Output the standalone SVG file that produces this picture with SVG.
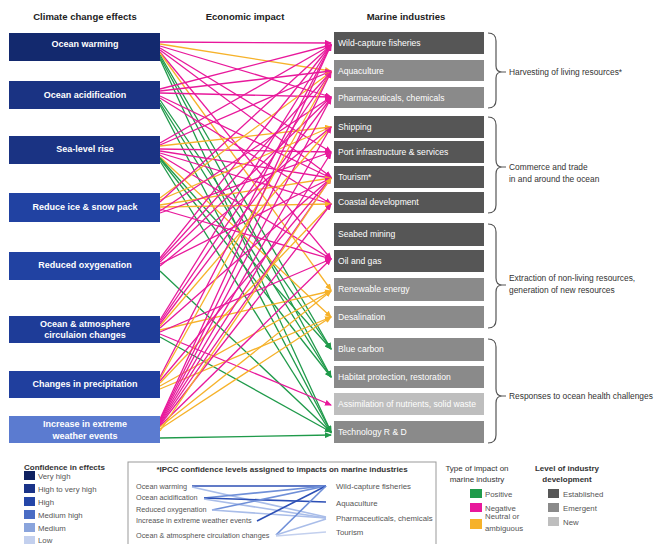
<svg xmlns="http://www.w3.org/2000/svg" width="657" height="544" viewBox="0 0 657 544">
<style>
text{font-family:"Liberation Sans",Arial,sans-serif}
.hd{font-size:9.5px;font-weight:bold;fill:#222;text-anchor:middle}
.lb{font-size:9px;font-weight:bold;fill:#fff;text-anchor:middle}
.rb{font-size:8.6px;fill:#fff}
.br{font-size:8.4px;fill:#333}
.p{stroke:#e8189b;fill:none;stroke-width:1.3;marker-end:url(#mp)}
.o{stroke:#f6b22a;fill:none;stroke-width:1.3;marker-end:url(#mo)}
.g{stroke:#1f9a4a;fill:none;stroke-width:1.3;marker-end:url(#mg)}
.est{fill:#565656}.emg{fill:#8a8a8a}.new{fill:#bebebe}
.brace{fill:none;stroke:#555;stroke-width:1.2}
.lg{font-size:7.8px;fill:#555}
.il{font-size:7.3px;fill:#555}
.lgt{font-size:8px;font-weight:bold;fill:#333}
.lgn{font-size:8px;fill:#333}
.ip{stroke-width:1.6;fill:none}
</style>
<defs>
<marker id="mp" markerUnits="userSpaceOnUse" markerWidth="7" markerHeight="6" refX="6" refY="3" orient="auto"><path d="M0,0 L7,3 L0,6 z" fill="#e8189b"/></marker>
<marker id="mo" markerUnits="userSpaceOnUse" markerWidth="7" markerHeight="6" refX="6" refY="3" orient="auto"><path d="M0,0 L7,3 L0,6 z" fill="#f6b22a"/></marker>
<marker id="mg" markerUnits="userSpaceOnUse" markerWidth="7" markerHeight="6" refX="6" refY="3" orient="auto"><path d="M0,0 L7,3 L0,6 z" fill="#1f9a4a"/></marker>
</defs>
<rect width="657" height="544" fill="#fff"/>
<text class="hd" x="85" y="20">Climate change effects</text>
<text class="hd" x="245" y="20">Economic impact</text>
<text class="hd" x="406" y="20">Marine industries</text>

<g id="connectors">
<line class="p" x1="160" y1="42" x2="331" y2="43"/>
<line class="o" x1="160" y1="44" x2="331" y2="71"/>
<line class="p" x1="160" y1="46" x2="331" y2="97"/>
<line class="p" x1="160" y1="48" x2="331" y2="152"/>
<line class="p" x1="160" y1="50" x2="331" y2="177"/>
<line class="p" x1="160" y1="52" x2="331" y2="259"/>
<line class="o" x1="160" y1="53" x2="331" y2="290"/>
<line class="g" x1="160" y1="55" x2="331" y2="349"/>
<line class="g" x1="160" y1="57" x2="331" y2="377"/>
<line class="g" x1="160" y1="59" x2="331" y2="432"/>

<line class="p" x1="160" y1="89" x2="331" y2="45"/>
<line class="p" x1="160" y1="91" x2="331" y2="71"/>
<line class="p" x1="160" y1="93" x2="331" y2="97"/>
<line class="p" x1="160" y1="96" x2="331" y2="178"/>
<line class="p" x1="160" y1="98" x2="331" y2="204"/>
<line class="g" x1="160" y1="100" x2="331" y2="349"/>
<line class="g" x1="160" y1="103" x2="331" y2="377"/>
<line class="g" x1="160" y1="105" x2="331" y2="432"/>

<line class="p" x1="160" y1="143" x2="331" y2="45"/>
<line class="p" x1="160" y1="145" x2="331" y2="71"/>
<line class="o" x1="160" y1="146" x2="331" y2="127"/>
<line class="p" x1="160" y1="149" x2="331" y2="152"/>
<line class="p" x1="160" y1="151" x2="331" y2="178"/>
<line class="p" x1="160" y1="153" x2="331" y2="204"/>
<line class="p" x1="160" y1="155" x2="331" y2="259"/>
<line class="o" x1="160" y1="157" x2="331" y2="317"/>
<line class="g" x1="160" y1="158" x2="331" y2="349"/>
<line class="g" x1="160" y1="159" x2="331" y2="377"/>
<line class="g" x1="160" y1="161" x2="331" y2="433"/>

<line class="o" x1="160" y1="198" x2="331" y2="72"/>
<line class="o" x1="160" y1="200" x2="331" y2="127"/>
<line class="p" x1="160" y1="202" x2="331" y2="45"/>
<line class="o" x1="160" y1="205" x2="331" y2="178"/>
<line class="o" x1="160" y1="207" x2="331" y2="204"/>
<line class="p" x1="160" y1="209" x2="331" y2="259"/>
<line class="p" x1="160" y1="211" x2="331" y2="97"/>
<line class="p" x1="160" y1="213" x2="331" y2="152"/>

<line class="p" x1="160" y1="258" x2="331" y2="45"/>
<line class="p" x1="160" y1="260" x2="331" y2="72"/>
<line class="p" x1="160" y1="262" x2="331" y2="97"/>
<line class="p" x1="160" y1="264" x2="331" y2="178"/>
<line class="p" x1="160" y1="266" x2="331" y2="127"/>
<line class="g" x1="160" y1="271" x2="331" y2="432"/>

<line class="p" x1="160" y1="320" x2="331" y2="45"/>
<line class="p" x1="160" y1="322" x2="331" y2="72"/>
<line class="p" x1="160" y1="324" x2="331" y2="98"/>
<line class="o" x1="160" y1="326" x2="331" y2="127"/>
<line class="p" x1="160" y1="328" x2="331" y2="178"/>
<line class="o" x1="160" y1="330" x2="331" y2="291"/>
<line class="p" x1="160" y1="332" x2="331" y2="259"/>
<line class="p" x1="160" y1="334" x2="331" y2="405"/>
<line class="g" x1="160" y1="337" x2="331" y2="432"/>

<line class="p" x1="160" y1="377" x2="331" y2="45"/>
<line class="o" x1="160" y1="379" x2="331" y2="72"/>
<line class="p" x1="160" y1="381" x2="331" y2="178"/>
<line class="o" x1="160" y1="383" x2="331" y2="204"/>
<line class="o" x1="160" y1="386" x2="331" y2="291"/>
<line class="o" x1="160" y1="389" x2="331" y2="317"/>

<line class="p" x1="160" y1="419" x2="331" y2="45"/>
<line class="p" x1="160" y1="420" x2="331" y2="72"/>
<line class="p" x1="160" y1="421" x2="331" y2="98"/>
<line class="p" x1="160" y1="422" x2="331" y2="127"/>
<line class="p" x1="160" y1="423" x2="331" y2="153"/>
<line class="p" x1="160" y1="424" x2="331" y2="178"/>
<line class="p" x1="160" y1="425" x2="331" y2="204"/>
<line class="p" x1="160" y1="426" x2="331" y2="259"/>
<line class="o" x1="160" y1="427" x2="331" y2="291"/>
<line class="o" x1="160" y1="429" x2="331" y2="317"/>
<line class="o" x1="160" y1="431" x2="331" y2="178"/>
<line class="g" x1="160" y1="438" x2="331" y2="435"/>
</g>

<g id="n-ocean-warming"><rect x="9" y="33" width="151" height="28" fill="#13296e"/><text class="lb" x="85" y="47">Ocean warming</text></g>
<g id="n-ocean-acidification"><rect x="9" y="81" width="151" height="28" fill="#1a3383"/><text class="lb" x="85" y="98">Ocean acidification</text></g>
<g id="n-sea-level-rise"><rect x="9" y="136" width="151" height="28" fill="#1a3383"/><text class="lb" x="85" y="152">Sea-level rise</text></g>
<g id="n-reduce-ice"><rect x="9" y="193" width="151" height="29" fill="#2142a2"/><text class="lb" x="85" y="210">Reduce ice &amp; snow pack</text></g>
<g id="n-reduced-oxygenation"><rect x="9" y="252" width="151" height="28" fill="#2142a2"/><text class="lb" x="85" y="268">Reduced oxygenation</text></g>
<g id="n-circulation"><rect x="9" y="316" width="151" height="27" fill="#1e3c98"/><text class="lb" x="85" y="327">Ocean &amp; atmosphere</text><text class="lb" x="85" y="338">circulaion changes</text></g>
<g id="n-precipitation"><rect x="9" y="371" width="151" height="27" fill="#203f9e"/><text class="lb" x="85" y="387">Changes in precipitation</text></g>
<g id="n-extreme-weather"><rect x="9" y="416" width="151" height="27" fill="#5b7bd0"/><text class="lb" x="85" y="427">Increase in extreme</text><text class="lb" x="85" y="439">weather events</text></g>

<g id="n-wild-capture"><rect class="est" x="334" y="32" width="150" height="22"/><text class="rb" x="338" y="46">Wild-capture fisheries</text></g>
<g id="n-aquaculture"><rect class="emg" x="334" y="60" width="150" height="21"/><text class="rb" x="338" y="74">Aquaculture</text></g>
<g id="n-pharmaceuticals"><rect class="emg" x="334" y="87" width="150" height="21"/><text class="rb" x="338" y="101">Pharmaceuticals, chemicals</text></g>
<g id="n-shipping"><rect class="est" x="334" y="116" width="150" height="22"/><text class="rb" x="338" y="130">Shipping</text></g>
<g id="n-port"><rect class="est" x="334" y="141" width="150" height="22"/><text class="rb" x="338" y="155">Port infrastructure &amp; services</text></g>
<g id="n-tourism"><rect class="est" x="334" y="166" width="150" height="22"/><text class="rb" x="338" y="180">Tourism*</text></g>
<g id="n-coastal"><rect class="est" x="334" y="192" width="150" height="21"/><text class="rb" x="338" y="205">Coastal development</text></g>
<g id="n-seabed"><rect class="est" x="334" y="223" width="150" height="23"/><text class="rb" x="338" y="237">Seabed mining</text></g>
<g id="n-oil-gas"><rect class="est" x="334" y="250" width="150" height="22"/><text class="rb" x="338" y="264">Oil and gas</text></g>
<g id="n-renewable"><rect class="emg" x="334" y="278" width="150" height="23"/><text class="rb" x="338" y="292">Renewable energy</text></g>
<g id="n-desalination"><rect class="emg" x="334" y="306" width="150" height="22"/><text class="rb" x="338" y="320">Desalination</text></g>
<g id="n-blue-carbon"><rect class="emg" x="334" y="338" width="150" height="23"/><text class="rb" x="338" y="352">Blue carbon</text></g>
<g id="n-habitat"><rect class="emg" x="334" y="366" width="150" height="22"/><text class="rb" x="338" y="380">Habitat protection, restoration</text></g>
<g id="n-assimilation"><rect class="new" x="334" y="393" width="150" height="22"/><text class="rb" x="338" y="407" fill="#f2f2f2">Assimilation of nutrients, solid waste</text></g>
<g id="n-technology"><rect class="emg" x="334" y="421" width="150" height="22"/><text class="rb" x="338" y="435">Technology R &amp; D</text></g>

<g id="groups">
<path class="brace" d="M488,33 Q496,33 496,41 L496,66 Q496,72 502,72 L506,72 M502,72 Q496,72 496,78 L496,100 Q496,108 488,108"/>
<text class="br" x="509" y="75">Harvesting of living resources*</text>
<path class="brace" d="M488,117 Q496,117 496,125 L496,160 Q496,167 502,167 L506,167 M502,167 Q496,167 496,174 L496,205 Q496,213 488,213"/>
<text class="br" x="509" y="170">Commerce and trade</text>
<text class="br" x="509" y="182">in and around the ocean</text>
<path class="brace" d="M488,224 Q496,224 496,232 L496,278 Q496,285 502,285 L506,285 M502,285 Q496,285 496,292 L496,320 Q496,328 488,328"/>
<text class="br" x="509" y="281">Extraction of non-living resources,</text>
<text class="br" x="509" y="293">generation of new resources</text>
<path class="brace" d="M488,339 Q496,339 496,347 L496,389 Q496,396 502,396 L506,396 M502,396 Q496,396 496,403 L496,435 Q496,443 488,443"/>
<text class="br" x="509" y="399">Responses to ocean health challenges</text>
</g>

<g id="legend-confidence">
<text class="lgt" x="24" y="470">Confidence in effects</text>
<rect x="24" y="471" width="11" height="9" fill="#0f2160"/><text class="lg" x="38" y="479">Very high</text>
<rect x="24" y="484" width="11" height="9" fill="#1a3388"/><text class="lg" x="38" y="492">High to very high</text>
<rect x="24" y="497" width="11" height="9" fill="#2446a8"/><text class="lg" x="38" y="505">High</text>
<rect x="24" y="510" width="11" height="9" fill="#4a6cc4"/><text class="lg" x="38" y="518">Medium high</text>
<rect x="24" y="523" width="11" height="9" fill="#8aa4dc"/><text class="lg" x="38" y="531">Medium</text>
<rect x="24" y="536" width="11" height="9" fill="#c3d0ee"/><text class="lg" x="38" y="543">Low</text>
</g>

<g id="legend-ipcc">
<rect x="128" y="462" width="308" height="90" fill="#fff" stroke="#999" stroke-width="1"/>
<text class="lgt" x="282" y="472" text-anchor="middle">*IPCC confidence levels assigned to impacts on marine industries</text>
<text class="il" x="136" y="489">Ocean warming</text>
<text class="il" x="136" y="500">Ocean acidification</text>
<text class="il" x="136" y="512">Reduced oxygenation</text>
<text class="il" x="136" y="523">Increase in extreme weather events</text>
<text class="il" x="136" y="538">Ocean &amp; atmosphere circulation changes</text>
<text class="lg" x="336" y="489">Wild-capture fisheries</text>
<text class="lg" x="336" y="506">Aquaculture</text>
<text class="lg" x="336" y="521">Pharmaceuticals, chemicals</text>
<text class="lg" x="336" y="535">Tourism</text>
<line class="ip" stroke="#2c4fb5" x1="192" y1="486" x2="326" y2="486"/>
<line class="ip" stroke="#a9bde9" x1="192" y1="487" x2="326" y2="517"/>
<line class="ip" stroke="#6f8fd8" x1="204" y1="498" x2="326" y2="486"/>
<line class="ip" stroke="#2c4fb5" x1="204" y1="498" x2="326" y2="502"/>
<line class="ip" stroke="#a9bde9" x1="204" y1="499" x2="326" y2="518"/>
<line class="ip" stroke="#6f8fd8" x1="212" y1="510" x2="326" y2="486"/>
<line class="ip" stroke="#a9bde9" x1="212" y1="510" x2="326" y2="518"/>
<line class="ip" stroke="#2c4fb5" x1="257" y1="521" x2="326" y2="486"/>
<line class="ip" stroke="#6f8fd8" x1="276" y1="535" x2="326" y2="486"/>
<line class="ip" stroke="#a9bde9" x1="276" y1="535" x2="326" y2="519"/>
<line class="ip" stroke="#c3d0ee" x1="276" y1="536" x2="326" y2="532"/>
</g>

<g id="legend-type">
<text class="lgn" x="477" y="471" text-anchor="middle">Type of impact on</text>
<text class="lgn" x="477" y="482" text-anchor="middle">marine industry</text>
<rect x="470" y="489" width="12" height="9" fill="#1f9a4a"/><text class="lg" x="485" y="497">Positive</text>
<rect x="470" y="503" width="12" height="9" fill="#e8189b"/><text class="lg" x="485" y="511">Negative</text>
<rect x="470" y="519" width="12" height="10" fill="#f6b22a"/><text class="lg" x="485" y="519">Neutral or</text><text class="lg" x="485" y="531">ambiguous</text>
</g>

<g id="legend-level">
<text class="lgt" x="567" y="471" text-anchor="middle">Level of industry</text>
<text class="lgt" x="567" y="482" text-anchor="middle">development</text>
<rect x="548" y="489" width="11" height="9" fill="#565656"/><text class="lg" x="563" y="497">Established</text>
<rect x="548" y="503" width="11" height="9" fill="#8a8a8a"/><text class="lg" x="563" y="511">Emergent</text>
<rect x="548" y="517" width="11" height="9" fill="#bebebe"/><text class="lg" x="563" y="525">New</text>
</g>
</svg>
